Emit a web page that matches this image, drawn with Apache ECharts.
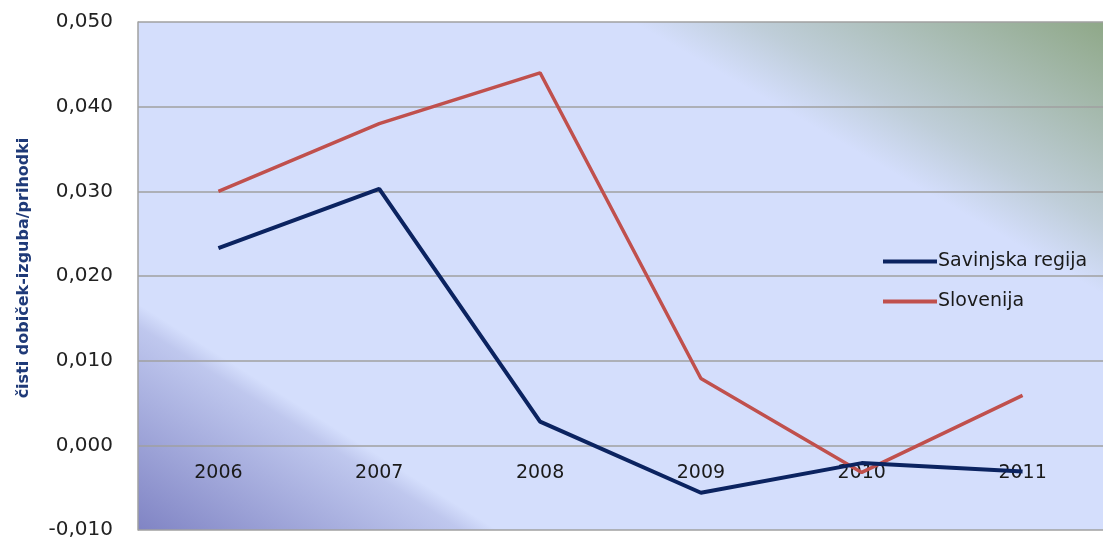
<!DOCTYPE html>
<html>
<head>
<meta charset="utf-8">
<script src="https://cdn.jsdelivr.net/npm/echarts@6/dist/echarts.min.js"></script>
<style>html,body{margin:0;padding:0;background:#fff;}#c{width:1103px;height:538px;}</style>
</head>
<body>
<div id="c"></div>
<script>
const years = ['2006', '2007', '2008', '2009', '2010', '2011'];
const savinjska = [0.0233, 0.0303, 0.0028, -0.0056, -0.0021, -0.0031];
const slovenija = [0.0300, 0.0380, 0.0440, 0.0079, -0.0032, 0.0059];
const yTicks = { min: -0.010, max: 0.050, interval: 0.010 };
const seriesNames = ['Savinjska regija', 'Slovenija'];
const yName = 'čisti dobiček-izguba/prihodki';

const G = { left: 138, top: 22, right: 0, bottom: 8 };
const W = 1103, H = 538;
const gw = W - G.left - G.right, gh = H - G.top - G.bottom;
const FONT = 'DejaVu Sans';

const chart = echarts.init(document.getElementById('c'));
chart.setOption({
  animation: false,
  backgroundColor: '#ffffff',
  grid: { left: G.left, top: G.top, right: G.right, bottom: G.bottom, outerBoundsMode: 'none', containLabel: false, show: false },
  graphic: [
    {
      type: 'rect', z: -10, silent: true,
      shape: { x: G.left, y: G.top, width: gw, height: gh },
      style: { fill: '#d4defc' }
    },
    {
      type: 'rect', z: -9, silent: true,
      shape: { x: G.left, y: G.top, width: gw, height: gh },
      style: { fill: { type: 'linear', x: 985, y: 226, x2: 1103, y2: 22, global: true,
        colorStops: [
          { offset: 0, color: 'rgba(143,168,136,0)' },
          { offset: 0.25, color: 'rgba(143,168,136,0.3)' },
          { offset: 1, color: 'rgba(143,168,136,1)' }
        ] } }
    },
    {
      type: 'rect', z: -9, silent: true,
      shape: { x: G.left, y: G.top, width: gw, height: gh },
      style: { fill: { type: 'linear', x: 240, y: 368, x2: 138, y2: 530, global: true,
        colorStops: [
          { offset: 0, color: 'rgba(128,132,196,0)' },
          { offset: 0.1, color: 'rgba(128,132,196,0.25)' },
          { offset: 1, color: 'rgba(128,132,196,1)' }
        ] } }
    }
  ],
  legend: {
    orient: 'vertical', left: 878, top: 247,
    itemWidth: 54, itemHeight: 20, itemGap: 21,
    icon: 'path://M0,8 L54,8 L54,12 L0,12 Z',
    textStyle: { fontFamily: FONT, fontSize: 19, color: '#1a1a1a', padding: [0, 0, 0, -4] },
    data: seriesNames
  },
  xAxis: {
    type: 'category', data: years, boundaryGap: true, position: 'bottom', z: 0,
    axisLine: { show: false, onZero: false },
    axisTick: { show: false },
    axisLabel: { show: true, margin: -66, fontFamily: FONT, fontSize: 19, color: '#1a1a1a' },
    splitLine: { show: false }
  },
  yAxis: {
    type: 'value', min: yTicks.min, max: yTicks.max, interval: yTicks.interval,
    name: yName, nameLocation: 'middle', nameGap: 106, nameRotate: 90,
    nameTextStyle: { fontFamily: FONT, fontSize: 16, fontWeight: 'bold', color: '#1f3a78', padding: [0, 0, 0, 16] },
    axisLine: { show: true, lineStyle: { color: '#a0a0a0', width: 1.5 } },
    axisTick: { show: false },
    axisLabel: { margin: 25, fontFamily: FONT, fontSize: 20, color: '#222222',
      formatter: v => v.toFixed(3).replace('.', ',') },
    splitLine: { show: true, lineStyle: { color: '#a0a0a0', width: 1.5 } }
  },
  series: [
    { name: seriesNames[0], type: 'line', data: savinjska, symbol: 'none',
      lineStyle: { color: '#0b2360', width: 4 }, itemStyle: { color: '#0b2360' }, z: 5 },
    { name: seriesNames[1], type: 'line', data: slovenija, symbol: 'none',
      lineStyle: { color: '#c0504d', width: 3.5 }, itemStyle: { color: '#c0504d' }, z: 4 }
  ]
});
</script>
</body>
</html>
